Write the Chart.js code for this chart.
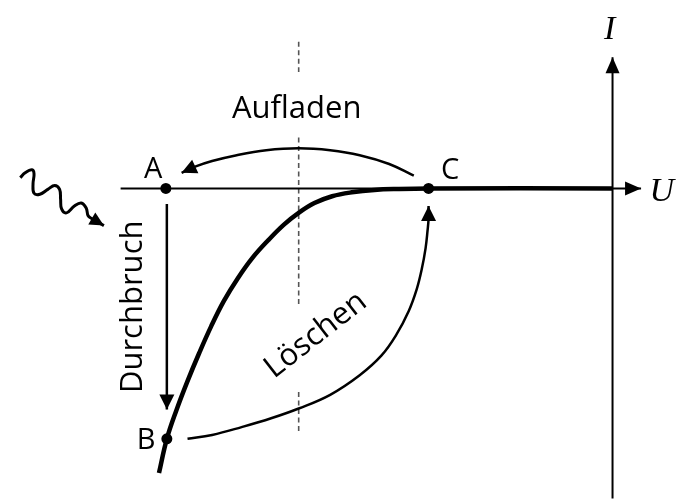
<!DOCTYPE html>
<html lang="de">
<head>
<meta charset="utf-8">
<title>Zählrohr-Kennlinie</title>
<script src="https://cdn.jsdelivr.net/npm/chart.js@4.4.1/dist/chart.umd.min.js"></script>
<style>
  html, body { margin: 0; padding: 0; background: #fff; }
  #wrap { position: relative; width: 681px; height: 504px; }
</style>
</head>
<body>
<div id="wrap"><canvas id="kennlinie"></canvas></div>
<script>
// Kennlinie mit Zyklus Aufladen -> Durchbruch -> Löschen.
// Koordinaten: U nach rechts, I nach oben, Ursprung am Achsenkreuz.
const uRange = [-61.7, 6.4];
const iRange = [-31.7, 18.7];

// Achsen (letzter Punkt = Pfeilspitze)
const axisUu = [-50, 2.9];
const axisUi = [0, 0];
const axisIu = [0, 0];
const axisIi = [-31.7, 13.4];

// dicke Kennlinie I(U)
const kennU = [-46.1, -45.3, -44.3, -43.2, -42.0, -40.8, -39.5, -38.1, -36.6, -35.0, -33.4, -31.9, -30.3, -28.5, -26.5, -24.2, -21.7, -18.7, 0];
const kennI = [-29.1, -25.6, -22.6, -19.7, -16.8, -14.1, -11.5, -9.2, -7.1, -5.3, -3.7, -2.5, -1.5, -0.8, -0.4, -0.15, -0.05, 0, 0];

// Zustände A, B, C
const stateNames = ['A', 'B', 'C'];
const stateU = [-45.4, -45.3, -18.7];
const stateI = [0, -25.6, 0];

// Aufladen: C -> A
const aufU = [-20.2, -22.7, -25.7, -28.7, -31.9, -35.2, -38.2, -40.7, -42.5, -43.8];
const aufI = [1.3, 2.5, 3.4, 3.9, 4.1, 3.9, 3.4, 2.8, 2.2, 1.6];

// Durchbruch: A -> B
const durchU = [-45.3, -45.3];
const durchI = [-1.6, -22.6];

// Löschen: B -> C
const loeU = [-43.2, -40.7, -37.7, -34.7, -31.9, -28.7, -25.7, -23.5, -22.0, -20.7, -19.9, -19.4, -19.0, -18.8, -18.7, -18.7];
const loeI = [-25.6, -25.2, -24.4, -23.5, -22.5, -21.1, -19.1, -17.1, -15.0, -12.5, -10.3, -8.3, -6.1, -4.3, -3.1, -1.8];

// einfallende Strahlung (Wellenlinie)
const welleU = [-60.2, -59.7, -59.0, -58.8, -58.9, -58.8, -58.2, -57.4, -56.7, -56.2, -56.1, -56.0, -55.5, -54.7, -54.0, -53.5, -53.3, -52.9, -51.7];
const welleI = [1.1, 1.6, 1.9, 1.5, 0.5, -0.5, -0.6, -0.1, 0.3, -0.1, -1.1, -2.1, -2.5, -1.8, -1.5, -2.0, -2.8, -3.1, -3.8];

// gestrichelte Hilfslinie (null = Lücke für Beschriftungen)
const hilfsU = [-31.9, -31.9, -31.9, -31.9, -31.9, -31.9, -31.9, -31.9];
const hilfsI = [15.0, 11.9, null, 5.2, -12.1, null, -20.8, -24.8];

const pts = (us, is) => us.map((u, k) => ({ x: u, y: is[k] }));

function line(us, is, width, extra) {
  return Object.assign({
    type: 'line',
    data: pts(us, is),
    borderColor: '#000',
    borderWidth: width,
    pointRadius: 0,
    fill: false,
    tension: 0,
    spanGaps: false,
    clip: false,
  }, extra || {});
}

const datasets = [
  Object.assign(line(stateU, stateI, 0), {
    type: 'scatter', showLine: false, pointRadius: 5.5, pointBackgroundColor: '#000',
    pointBorderWidth: 0, order: 0,
  }),
  line(kennU, kennI, 4.5, { tension: 0.4, order: 1 }),
  line(axisUu, axisUi, 2, { arrow: [16, 7], order: 2 }),
  line(axisIu, axisIi, 2, { arrow: [16, 7], order: 2 }),
  line(aufU, aufI, 2.5, { tension: 0.4, arrow: [15, 7.5], order: 3 }),
  line(durchU, durchI, 2.5, { arrow: [15, 7.5], order: 3 }),
  line(loeU, loeI, 2.5, { tension: 0.4, arrow: [15, 7.5], order: 3 }),
  line(welleU, welleI, 3, { tension: 0.4, arrow: [14, 7], order: 3 }),
  line(hilfsU, hilfsI, 1.6, { borderColor: '#555', borderDash: [5, 3.5], order: 5 }),
];

// Pfeilspitzen: Spitze = letzter Datenpunkt, Richtung vom vorletzten Punkt
const arrowHeads = {
  id: 'arrowHeads',
  afterDatasetsDraw(chart) {
    const { ctx } = chart;
    const xs = chart.scales.x, ys = chart.scales.y;
    chart.data.datasets.forEach(ds => {
      if (!ds.arrow) return;
      const d = ds.data;
      const a = d[d.length - 2], b = d[d.length - 1];
      const x0 = xs.getPixelForValue(a.x), y0 = ys.getPixelForValue(a.y);
      const x1 = xs.getPixelForValue(b.x), y1 = ys.getPixelForValue(b.y);
      const ang = Math.atan2(y1 - y0, x1 - x0);
      const [len, half] = ds.arrow;
      ctx.save();
      ctx.translate(x1, y1);
      ctx.rotate(ang);
      ctx.beginPath();
      ctx.moveTo(0, 0);
      ctx.lineTo(-len, -half);
      ctx.lineTo(-len, half);
      ctx.closePath();
      ctx.fillStyle = '#000';
      ctx.fill();
      ctx.restore();
    });
  }
};

// Beschriftungen in Datenkoordinaten
const sansFont = '"Open Sans", "Noto Sans", sans-serif';
const serifFont = '"Liberation Serif", "DejaVu Serif", serif';
const textLabels = {
  id: 'textLabels',
  afterDatasetsDraw(chart, args, opts) {
    const { ctx } = chart;
    const xs = chart.scales.x, ys = chart.scales.y;
    opts.items.forEach(it => {
      ctx.save();
      ctx.translate(xs.getPixelForValue(it.u), ys.getPixelForValue(it.i));
      ctx.rotate((it.rot || 0) * Math.PI / 180);
      ctx.font = it.font;
      ctx.fillStyle = '#000';
      ctx.textAlign = 'center';
      ctx.textBaseline = it.base || 'alphabetic';
      ctx.fillText(it.text, 0, 0);
      ctx.restore();
    });
  }
};

const labelItems = [
  { text: 'Aufladen', u: -32.1, i: 7.2, font: '31px ' + sansFont },
  { text: stateNames[0], u: -46.7, i: 1.1, font: '29px ' + sansFont },
  { text: stateNames[1], u: -47.4, i: -26.6, font: '29px ' + sansFont },
  { text: stateNames[2], u: -16.5, i: 1.0, font: '29px ' + sansFont },
  { text: 'Durchbruch', u: -48.7, i: -12.1, rot: -90, base: 'middle', font: '31px ' + sansFont },
  { text: 'Löschen', u: -29.6, i: -15.7, rot: -38, font: '31px ' + sansFont },
  { text: 'I', u: -0.3, i: 15.3, font: 'italic 34px ' + serifFont },
  { text: 'U', u: 5.0, i: -1.3, font: 'italic 34px ' + serifFont },
];

new Chart(document.getElementById('kennlinie'), {
  data: { datasets },
  options: {
    responsive: true,
    maintainAspectRatio: false,
    animation: false,
    layout: { padding: 0 },
    scales: {
      x: { type: 'linear', min: uRange[0], max: uRange[1], display: false },
      y: { type: 'linear', min: iRange[0], max: iRange[1], display: false },
    },
    plugins: {
      legend: { display: false },
      tooltip: { enabled: false },
      textLabels: { items: labelItems },
    },
  },
  plugins: [arrowHeads, textLabels],
});
</script>
</body>
</html>
